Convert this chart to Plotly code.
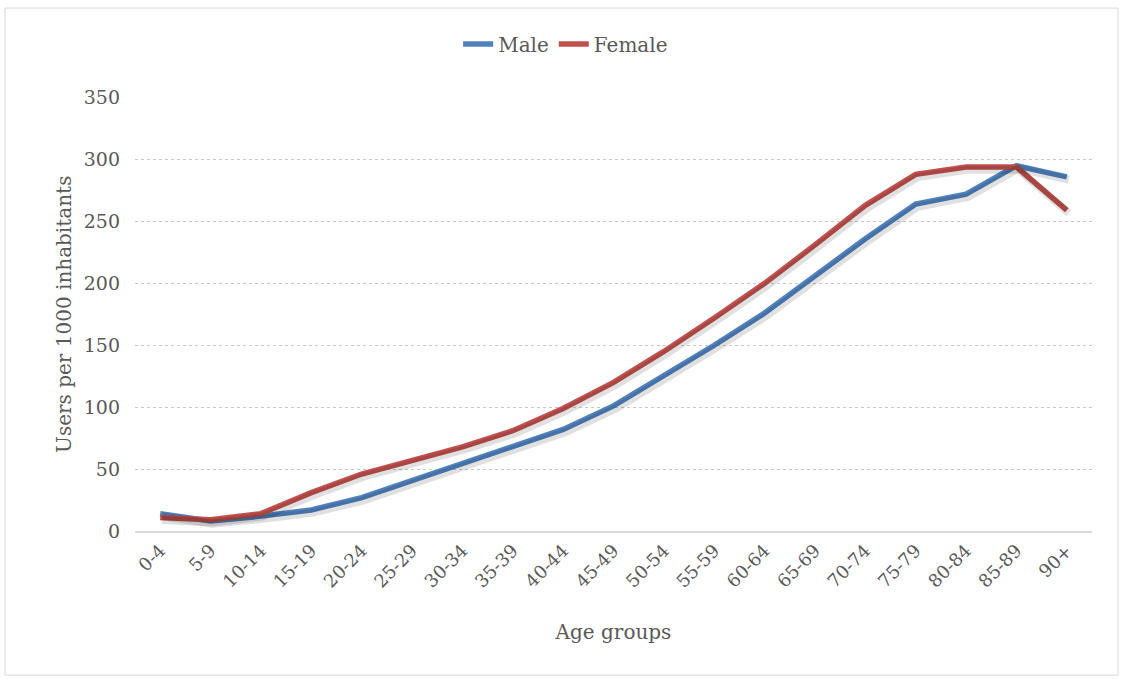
import plotly.graph_objects as go

age_groups = ["0-4", "5-9", "10-14", "15-19", "20-24", "25-29", "30-34", "35-39",
              "40-44", "45-49", "50-54", "55-59", "60-64", "65-69", "70-74",
              "75-79", "80-84", "85-89", "90+"]
male = [14, 8, 12, 17, 27, 41, 54, 68, 82, 101, 125, 150, 176, 206, 236, 264, 272, 295, 286]
female = [11, 9, 14, 31, 46, 57, 68, 81, 99, 120, 145, 172, 200, 231, 263, 288, 294, 294, 259]
y_ticks = [0, 50, 100, 150, 200, 250, 300, 350]

FONT = "DejaVu Serif"
TEXT = "#595959"
series = [("Male", male, "#4F81BD"), ("Female", female, "#C0504D")]

fig = go.Figure()

# soft drop shadow under each line, drawn on a slightly shifted hidden axis pair
for name, vals, color in series:
    fig.add_trace(go.Scatter(
        x=age_groups, y=vals, mode="lines", showlegend=False, hoverinfo="skip",
        line=dict(color="rgba(0,0,0,0.12)", width=8),
        xaxis="x2", yaxis="y2",
    ))

for name, vals, color in series:
    fig.add_trace(go.Scatter(
        x=age_groups, y=vals, name=name, mode="lines",
        line=dict(color=color, width=5.5),
    ))

n = len(age_groups)
plot_h = 679 - 148 - 20
dom_top = 436 / plot_h

fig.update_layout(
    width=1123, height=679,
    margin=dict(l=135, r=31, t=20, b=148),
    paper_bgcolor="white", plot_bgcolor="white",
    font=dict(family=FONT, color=TEXT, size=18),
    showlegend=True,
    legend=dict(orientation="h", x=0.45, xanchor="center",
                y=(531 - 41) / plot_h, yanchor="middle",
                font=dict(size=20, color=TEXT), tracegroupgap=0, entrywidth=0),
    xaxis=dict(
        type="category", range=[-0.5, n - 0.5],
        tickangle=-45, tickfont=dict(size=18, color=TEXT),
        showgrid=False, showline=True, linecolor="#D9D9D9", linewidth=2,
        ticks="", zeroline=False,
        title=dict(text="Age groups", font=dict(size=20, color=TEXT), standoff=35),
    ),
    yaxis=dict(
        domain=[0, dom_top],
        range=[0, 350], tickvals=y_ticks, ticks="",
        tickfont=dict(size=19, color=TEXT), ticklabelstandoff=14,
        showgrid=True, gridcolor="#C8C8C8", griddash="dot", gridwidth=1,
        zeroline=False, showline=False,
        title=dict(text="Users per 1000 inhabitants", font=dict(size=20, color=TEXT), standoff=6),
    ),
    xaxis2=dict(type="category", range=[-0.54, n - 0.54], overlaying="x",
                visible=False),
    yaxis2=dict(domain=[0, dom_top], range=[2.2, 352.2], overlaying="y", visible=False),
    shapes=[dict(type="rect", xref="paper", yref="paper",
                 x0=-0.1358, x1=1.0272, y0=(531 - 676) / plot_h, y1=(531 - 5) / plot_h,
                 line=dict(color="#D9D9D9", width=1), layer="below")],
)

fig.write_html("out.html")
